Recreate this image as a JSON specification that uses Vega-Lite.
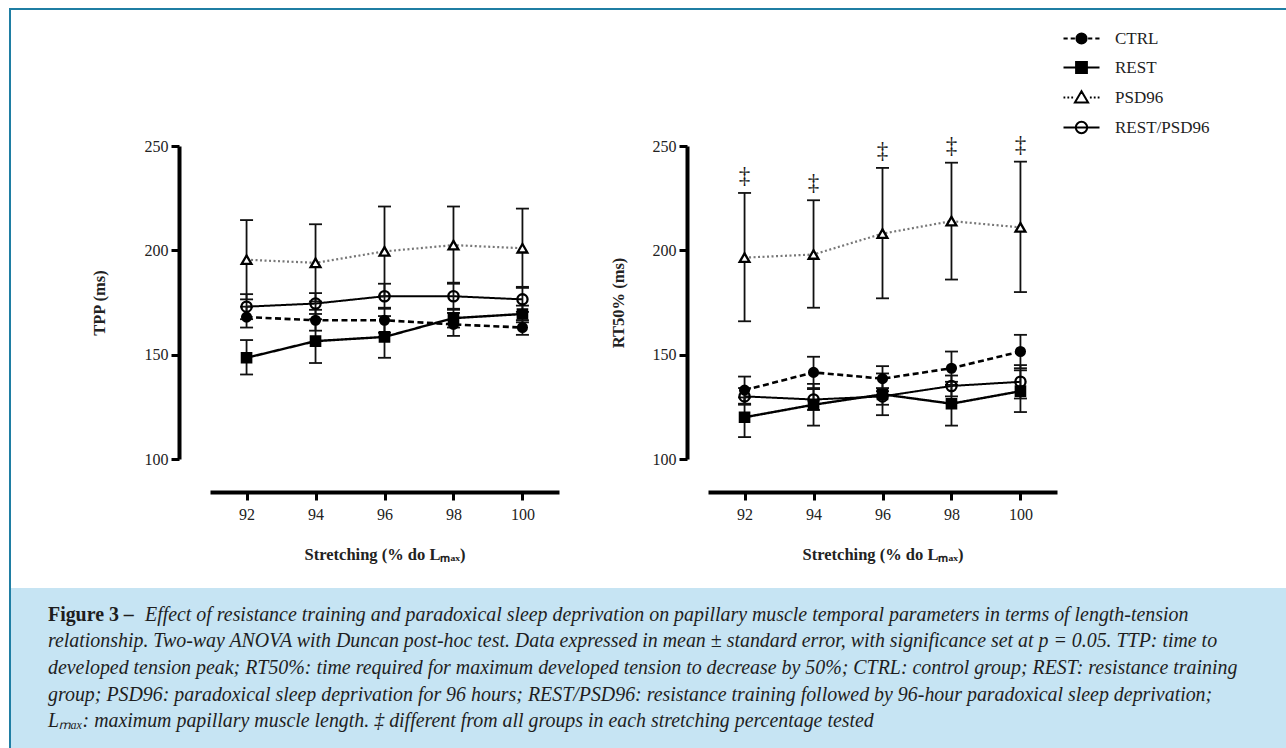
{
  "$schema": "https://vega.github.io/schema/vega-lite/v6.json",
  "padding": {"left": 9, "top": 8, "right": 0, "bottom": 0},
  "background": "#ffffff",
  "bounds": "flush",
  "spacing": 0,
  "datasets": {
    "tpp": [
      {"group": "CTRL", "stretch": 92, "mean": 168, "lo": 163, "hi": 173},
      {"group": "CTRL", "stretch": 94, "mean": 166.5, "lo": 161.5, "hi": 171.5},
      {"group": "CTRL", "stretch": 96, "mean": 166.5, "lo": 160.5, "hi": 172.5},
      {"group": "CTRL", "stretch": 98, "mean": 164.5, "lo": 159, "hi": 170},
      {"group": "CTRL", "stretch": 100, "mean": 163, "lo": 159.5, "hi": 166.5},
      {"group": "REST", "stretch": 92, "mean": 148.5, "lo": 140.5, "hi": 157},
      {"group": "REST", "stretch": 94, "mean": 156.5, "lo": 146, "hi": 167},
      {"group": "REST", "stretch": 96, "mean": 158.5, "lo": 148.5, "hi": 168.5},
      {"group": "REST", "stretch": 98, "mean": 167.5, "lo": 163, "hi": 172},
      {"group": "REST", "stretch": 100, "mean": 169.5, "lo": 165.5, "hi": 173.5},
      {"group": "PSD96", "stretch": 92, "mean": 195.5, "lo": 176.5, "hi": 214.5},
      {"group": "PSD96", "stretch": 94, "mean": 194, "lo": 175.5, "hi": 212.5},
      {"group": "PSD96", "stretch": 96, "mean": 199.5, "lo": 178, "hi": 221},
      {"group": "PSD96", "stretch": 98, "mean": 202.5, "lo": 184, "hi": 221},
      {"group": "PSD96", "stretch": 100, "mean": 201, "lo": 182, "hi": 220},
      {"group": "REST/PSD96", "stretch": 92, "mean": 173, "lo": 167, "hi": 179},
      {"group": "REST/PSD96", "stretch": 94, "mean": 174.5, "lo": 169.5, "hi": 179.5},
      {"group": "REST/PSD96", "stretch": 96, "mean": 178, "lo": 172, "hi": 184},
      {"group": "REST/PSD96", "stretch": 98, "mean": 178, "lo": 171.5, "hi": 184.5},
      {"group": "REST/PSD96", "stretch": 100, "mean": 176.5, "lo": 170.5, "hi": 182.5}
    ],
    "rt": [
      {"group": "CTRL", "stretch": 92, "mean": 133, "lo": 126.5, "hi": 139.5},
      {"group": "CTRL", "stretch": 94, "mean": 141.5, "lo": 134, "hi": 149},
      {"group": "CTRL", "stretch": 96, "mean": 138.5, "lo": 132.5, "hi": 144.5},
      {"group": "CTRL", "stretch": 98, "mean": 143.5, "lo": 135.5, "hi": 151.5},
      {"group": "CTRL", "stretch": 100, "mean": 151.5, "lo": 143.5, "hi": 159.5},
      {"group": "REST", "stretch": 92, "mean": 120, "lo": 110.5, "hi": 129.5},
      {"group": "REST", "stretch": 94, "mean": 126, "lo": 116, "hi": 136},
      {"group": "REST", "stretch": 96, "mean": 131, "lo": 121, "hi": 141},
      {"group": "REST", "stretch": 98, "mean": 126.5, "lo": 116, "hi": 137},
      {"group": "REST", "stretch": 100, "mean": 132.5, "lo": 122.5, "hi": 142.5},
      {"group": "PSD96", "stretch": 92, "mean": 196.5, "lo": 166, "hi": 227.5},
      {"group": "PSD96", "stretch": 94, "mean": 198, "lo": 172.5, "hi": 224},
      {"group": "PSD96", "stretch": 96, "mean": 208, "lo": 177, "hi": 239.5},
      {"group": "PSD96", "stretch": 98, "mean": 214, "lo": 186, "hi": 242},
      {"group": "PSD96", "stretch": 100, "mean": 211, "lo": 180, "hi": 242.5},
      {"group": "REST/PSD96", "stretch": 92, "mean": 130, "lo": 126, "hi": 134},
      {"group": "REST/PSD96", "stretch": 94, "mean": 128.5, "lo": 123.5, "hi": 133.5},
      {"group": "REST/PSD96", "stretch": 96, "mean": 130, "lo": 126, "hi": 134},
      {"group": "REST/PSD96", "stretch": 98, "mean": 135, "lo": 130, "hi": 140},
      {"group": "REST/PSD96", "stretch": 100, "mean": 137, "lo": 129, "hi": 145}
    ]
  },
  "vconcat": [
    {
      "width": 1277, "height": 2,
      "data": {"values": []},
      "mark": "point",
      "view": {"fill": "#1f7ea3", "stroke": null}
    },
    {
      "bounds": "flush",
      "spacing": 0,
      "hconcat": [
        {
          "width": 2, "height": 738,
          "data": {"values": []},
          "mark": "point",
          "view": {"fill": "#1f7ea3", "stroke": null}
        },
        {
          "bounds": "flush",
          "spacing": 0,
          "vconcat": [
            {"width": 1, "height": 136, "data": {"values": []}, "mark": "point"},
            {
              "bounds": "flush",
              "spacing": 149,
              "hconcat": [
                {"width": 50, "height": 1, "data": {"values": []}, "mark": "point"},
                {
                  "width": 349, "height": 313,
                  "data": {"name": "tpp"},
                  "encoding": {
                    "x": {
                      "field": "stretch", "type": "quantitative",
                      "scale": {"domain": [90.94, 101.06], "nice": false, "zero": false},
                      "axis": {
                        "values": [92, 94, 96, 98, 100], "offset": 33,
                        "domainColor": "#000", "domainWidth": 4,
                        "tickColor": "#000", "tickWidth": 3, "tickSize": 8,
                        "labelFont": "Liberation Serif", "labelFontSize": 16, "labelColor": "#222", "labelPadding": 6,
                        "title": "Stretching (% do Lₘₐₓ)",
                        "titleFont": "Liberation Serif", "titleFontSize": 16.5, "titleFontWeight": "bold", "titleColor": "#222", "titlePadding": 24,
                        "grid": false
                      }
                    }
                  },
                  "layer": [
                    {
                      "mark": {"type": "line"},
                      "encoding": {
                        "y": {
                          "field": "mean", "type": "quantitative", "title": "TPP (ms)",
                          "scale": {"domain": [100, 250], "nice": false, "zero": false},
                          "axis": {
                            "values": [100, 150, 200, 250], "offset": 31,
                            "domainColor": "#000", "domainWidth": 4,
                            "tickColor": "#000", "tickWidth": 3, "tickSize": 8,
                            "labelFont": "Liberation Serif", "labelFontSize": 16, "labelColor": "#222", "labelPadding": 3,
                            "titleFont": "Liberation Serif", "titleFontSize": 16.5, "titleFontWeight": "bold", "titleColor": "#222", "titlePadding": 37,
                            "grid": false
                          }
                        },
                        "stroke": {"field": "group", "type": "nominal", "scale": {"domain": ["CTRL", "REST", "PSD96", "REST/PSD96"], "range": ["#000000", "#000000", "#777777", "#000000"]}, "legend": null},
                        "strokeDash": {"field": "group", "type": "nominal", "scale": {"domain": ["CTRL", "REST", "PSD96", "REST/PSD96"], "range": [[6, 3.5], [1, 0], [2, 2.5], [1, 0]]}, "legend": null},
                        "strokeWidth": {"field": "group", "type": "nominal", "scale": {"domain": ["CTRL", "REST", "PSD96", "REST/PSD96"], "range": [2.6, 2, 2, 2]}, "legend": null}
                      }
                    },
                    {
                      "mark": {"type": "rule", "color": "#111", "strokeWidth": 1.8},
                      "encoding": {"y": {"field": "lo", "type": "quantitative", "title": "TPP (ms)"}, "y2": {"field": "hi"}}
                    },
                    {
                      "mark": {"type": "tick", "orient": "horizontal", "size": 13, "thickness": 1.8, "color": "#111", "opacity": 1},
                      "encoding": {"y": {"field": "lo", "type": "quantitative", "title": "TPP (ms)"}}
                    },
                    {
                      "mark": {"type": "tick", "orient": "horizontal", "size": 13, "thickness": 1.8, "color": "#111", "opacity": 1},
                      "encoding": {"y": {"field": "hi", "type": "quantitative", "title": "TPP (ms)"}}
                    },
                    {
                      "mark": {"type": "point", "opacity": 1, "stroke": "#000", "strokeWidth": 2.3},
                      "encoding": {
                        "y": {"field": "mean", "type": "quantitative", "title": "TPP (ms)"},
                        "shape": {"field": "group", "type": "nominal", "scale": {"domain": ["CTRL", "REST", "PSD96", "REST/PSD96"], "range": ["circle", "square", "triangle-up", "circle"]}, "legend": null},
                        "fill": {"field": "group", "type": "nominal", "scale": {"domain": ["CTRL", "REST", "PSD96", "REST/PSD96"], "range": ["#000000", "#000000", "#ffffff", "transparent"]}, "legend": null},
                        "size": {"field": "group", "type": "nominal", "scale": {"domain": ["CTRL", "REST", "PSD96", "REST/PSD96"], "range": [78, 105, 150, 88]}, "legend": null}
                      }
                    }
                  ]
                },
                {
                  "width": 349, "height": 313,
                  "data": {"name": "rt"},
                  "resolve": {"scale": {"shape": "independent", "fill": "independent", "stroke": "independent"}},
                  "encoding": {
                    "x": {
                      "field": "stretch", "type": "quantitative",
                      "scale": {"domain": [90.94, 101.06], "nice": false, "zero": false},
                      "axis": {
                        "values": [92, 94, 96, 98, 100], "offset": 33,
                        "domainColor": "#000", "domainWidth": 4,
                        "tickColor": "#000", "tickWidth": 3, "tickSize": 8,
                        "labelFont": "Liberation Serif", "labelFontSize": 16, "labelColor": "#222", "labelPadding": 6,
                        "title": "Stretching (% do Lₘₐₓ)",
                        "titleFont": "Liberation Serif", "titleFontSize": 16.5, "titleFontWeight": "bold", "titleColor": "#222", "titlePadding": 24,
                        "grid": false
                      }
                    }
                  },
                  "layer": [
                    {
                      "mark": {"type": "line"},
                      "encoding": {
                        "y": {
                          "field": "mean", "type": "quantitative", "title": "RT50% (ms)",
                          "scale": {"domain": [100, 250], "nice": false, "zero": false},
                          "axis": {
                            "values": [100, 150, 200, 250], "offset": 21,
                            "domainColor": "#000", "domainWidth": 4,
                            "tickColor": "#000", "tickWidth": 3, "tickSize": 8,
                            "labelFont": "Liberation Serif", "labelFontSize": 16, "labelColor": "#222", "labelPadding": 3,
                            "titleFont": "Liberation Serif", "titleFontSize": 16.5, "titleFontWeight": "bold", "titleColor": "#222", "titlePadding": 26,
                            "grid": false
                          }
                        },
                        "stroke": {"field": "group", "type": "nominal", "scale": {"domain": ["CTRL", "REST", "PSD96", "REST/PSD96"], "range": ["#000000", "#000000", "#777777", "#000000"]}, "legend": null},
                        "strokeDash": {"field": "group", "type": "nominal", "scale": {"domain": ["CTRL", "REST", "PSD96", "REST/PSD96"], "range": [[6, 3.5], [1, 0], [2, 2.5], [1, 0]]}, "legend": null},
                        "strokeWidth": {"field": "group", "type": "nominal", "scale": {"domain": ["CTRL", "REST", "PSD96", "REST/PSD96"], "range": [2.6, 2, 2, 2]}, "legend": null}
                      }
                    },
                    {
                      "mark": {"type": "rule", "color": "#111", "strokeWidth": 1.8},
                      "encoding": {"y": {"field": "lo", "type": "quantitative", "title": "RT50% (ms)"}, "y2": {"field": "hi"}}
                    },
                    {
                      "mark": {"type": "tick", "orient": "horizontal", "size": 13, "thickness": 1.8, "color": "#111", "opacity": 1},
                      "encoding": {"y": {"field": "lo", "type": "quantitative", "title": "RT50% (ms)"}}
                    },
                    {
                      "mark": {"type": "tick", "orient": "horizontal", "size": 13, "thickness": 1.8, "color": "#111", "opacity": 1},
                      "encoding": {"y": {"field": "hi", "type": "quantitative", "title": "RT50% (ms)"}}
                    },
                    {
                      "mark": {"type": "point", "opacity": 1, "stroke": "#000", "strokeWidth": 2.3},
                      "encoding": {
                        "y": {"field": "mean", "type": "quantitative", "title": "RT50% (ms)"},
                        "shape": {"field": "group", "type": "nominal", "scale": {"domain": ["CTRL", "REST", "PSD96", "REST/PSD96"], "range": ["circle", "square", "triangle-up", "circle"]}, "legend": null},
                        "fill": {"field": "group", "type": "nominal", "scale": {"domain": ["CTRL", "REST", "PSD96", "REST/PSD96"], "range": ["#000000", "#000000", "#ffffff", "transparent"]}, "legend": null},
                        "size": {"field": "group", "type": "nominal", "scale": {"domain": ["CTRL", "REST", "PSD96", "REST/PSD96"], "range": [78, 105, 150, 88]}, "legend": null}
                      }
                    },
                    {
                      "transform": [{"filter": "datum.group === 'PSD96'"}],
                      "mark": {"type": "text", "text": "‡", "font": "Liberation Serif", "fontSize": 23, "color": "#1a1a1a", "baseline": "middle", "dy": -17},
                      "encoding": {"y": {"field": "hi", "type": "quantitative", "title": "RT50% (ms)"}}
                    },
                    {
                      "data": {"values": []},
                      "mark": {"type": "point", "filled": false, "opacity": 1, "strokeWidth": 2},
                      "encoding": {
                        "shape": {
                          "field": "group", "type": "nominal",
                          "scale": {
                            "domain": ["CTRL", "REST", "PSD96", "REST/PSD96"],
                            "range": [
                              "M-3,0H-2.3M-1.8,0H-1.1M1.1,0H1.8M2.3,0H3M-0.85,0A0.85,0.85,0,1,0,0.85,0A0.85,0.85,0,1,0,-0.85,0Z",
                              "M-3,0H3M-0.9,-0.9H0.9V0.9H-0.9Z",
                              "M-3,0H-2.7M-2.35,0H-2.05M-1.7,0H-1.4M1.4,0H1.7M2.05,0H2.35M2.7,0H3M0,-1.05L1.1,0.85H-1.1Z",
                              "M-3,0H3M-0.95,0A0.95,0.95,0,1,0,0.95,0A0.95,0.95,0,1,0,-0.95,0Z"
                            ]
                          },
                          "legend": {
                            "orient": "none", "legendX": 365, "legendY": -116, "title": null, "padding": 0,
                            "labelFont": "Liberation Serif", "labelFontSize": 17, "labelColor": "#222", "labelOffset": 25,
                            "rowPadding": 10, "symbolSize": 144, "symbolStrokeWidth": 2
                          }
                        },
                        "fill": {
                          "field": "group", "type": "nominal",
                          "scale": {"domain": ["CTRL", "REST", "PSD96", "REST/PSD96"], "range": ["#000000", "#000000", "#ffffff", "transparent"]},
                          "legend": {
                            "orient": "none", "legendX": 365, "legendY": -116, "title": null, "padding": 0,
                            "labelFont": "Liberation Serif", "labelFontSize": 17, "labelColor": "#222", "labelOffset": 25,
                            "rowPadding": 10, "symbolSize": 144, "symbolStrokeWidth": 2
                          }
                        },
                        "stroke": {
                          "field": "group", "type": "nominal",
                          "scale": {"domain": ["CTRL", "REST", "PSD96", "REST/PSD96"], "range": ["#000000", "#000000", "#000000", "#000000"]},
                          "legend": {
                            "orient": "none", "legendX": 365, "legendY": -116, "title": null, "padding": 0,
                            "labelFont": "Liberation Serif", "labelFontSize": 17, "labelColor": "#222", "labelOffset": 25,
                            "rowPadding": 10, "symbolSize": 144, "symbolStrokeWidth": 2
                          }
                        }
                      }
                    }
                  ]
                }
              ]
            },
            {"width": 1, "height": 442, "data": {"values": []}, "mark": "point"},
            {
              "width": 1275, "height": 160,
              "view": {"fill": "#c6e4f3", "stroke": null},
              "data": {"values": [
                {"line": 1, "part": "lead", "text": "Figure 3 –"},
                {"line": 1, "part": "first", "text": "Effect of resistance training and paradoxical sleep deprivation on papillary muscle temporal parameters in terms of length-tension"},
                {"line": 2, "part": "body", "text": "relationship. Two-way ANOVA with Duncan post-hoc test. Data expressed in mean ± standard error, with significance set at p = 0.05. TTP: time to"},
                {"line": 3, "part": "body", "text": "developed tension peak; RT50%: time required for maximum developed tension to decrease by 50%; CTRL: control group; REST: resistance training"},
                {"line": 4, "part": "body", "text": "group; PSD96: paradoxical sleep deprivation for 96 hours; REST/PSD96: resistance training followed by 96-hour paradoxical sleep deprivation;"},
                {"line": 5, "part": "body", "text": "Lₘₐₓ: maximum papillary muscle length. ‡ different from all groups in each stretching percentage tested"}
              ]},
              "encoding": {
                "x": {"datum": 0, "type": "quantitative", "scale": {"domain": [0, 1]}, "axis": null},
                "y": {"field": "line", "type": "ordinal", "scale": {"type": "point", "padding": 1.55}, "axis": null},
                "text": {"field": "text"}
              },
              "layer": [
                {
                  "transform": [{"filter": "datum.part === 'lead'"}],
                  "mark": {"type": "text", "align": "left", "baseline": "middle", "dx": 37, "font": "Liberation Serif", "fontSize": 19.9, "fontWeight": "bold", "color": "#1e1e1e"}
                },
                {
                  "transform": [{"filter": "datum.part === 'first'"}],
                  "mark": {"type": "text", "align": "left", "baseline": "middle", "dx": 134, "font": "Liberation Serif", "fontSize": 19.9, "fontStyle": "italic", "color": "#1e1e1e"}
                },
                {
                  "transform": [{"filter": "datum.part === 'body'"}],
                  "mark": {"type": "text", "align": "left", "baseline": "middle", "dx": 37, "font": "Liberation Serif", "fontSize": 19.9, "fontStyle": "italic", "color": "#1e1e1e"}
                }
              ]
            }
          ]
        }
      ]
    }
  ],
  "config": {
    "view": {"stroke": null},
    "font": "Liberation Serif",
    "axis": {"grid": false}
  }
}
